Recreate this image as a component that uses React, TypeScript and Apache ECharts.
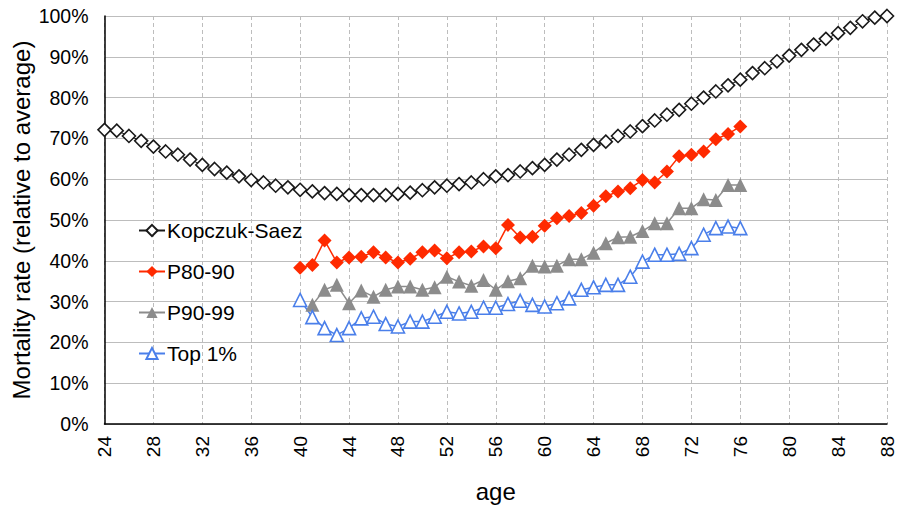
import React, { useEffect, useRef } from "react";
import * as echarts from "echarts";

const allAges = [
  24, 25, 26, 27, 28, 29, 30, 31, 32, 33, 34, 35, 36, 37, 38, 39, 40, 41, 42, 43,
  44, 45, 46, 47, 48, 49, 50, 51, 52, 53, 54, 55, 56, 57, 58, 59, 60, 61, 62, 63,
  64, 65, 66, 67, 68, 69, 70, 71, 72, 73, 74, 75, 76, 77, 78, 79, 80, 81, 82, 83,
  84, 85, 86, 87, 88,
];

const kopczukSaez = [
  72.1, 71.9, 70.6, 69.4, 68.0, 66.8, 66.0, 64.8, 63.5, 62.5,
  61.6, 60.7, 59.8, 59.2, 58.4, 58.0, 57.4, 57.0, 56.6, 56.4,
  56.1, 56.1, 56.1, 56.1, 56.4, 56.7, 57.3, 58.0, 58.4, 58.8,
  59.2, 60.0, 60.7, 61.0, 61.9, 62.7, 63.5, 64.8, 66.0, 67.2,
  68.4, 69.2, 70.6, 71.7, 73.0, 74.4, 75.8, 77.0, 78.5, 80.0,
  81.5, 83.0, 84.4, 86.0, 87.2, 88.9, 90.3, 91.7, 93.0, 94.4,
  95.8, 97.1, 98.7, 99.6, 100.0,
];

const groupAges = [
  40, 41, 42, 43, 44, 45, 46, 47, 48, 49, 50, 51, 52, 53, 54, 55, 56, 57, 58, 59,
  60, 61, 62, 63, 64, 65, 66, 67, 68, 69, 70, 71, 72, 73, 74, 75, 76,
];

const p8090 = [
  38.3, 39.0, 45.0, 39.6, 40.8, 41.0, 42.1, 40.8, 39.6, 40.5,
  42.1, 42.5, 40.6, 42.1, 42.3, 43.5, 43.1, 48.8, 45.7, 45.9,
  48.6, 50.4, 51.0, 51.7, 53.5, 55.8, 57.0, 57.8, 59.8, 59.2,
  61.9, 65.6, 66.0, 66.8, 69.8, 71.1, 72.9,
];

const p9099 = [
  null, 29.2, 32.9, 34.1, 29.6, 32.7, 31.2, 32.9, 33.7, 33.7,
  32.9, 33.5, 36.1, 34.9, 33.9, 35.3, 32.9, 35.0, 35.7, 38.8,
  38.6, 38.8, 40.4, 40.4, 42.0, 44.3, 45.8, 45.9, 47.3, 49.2,
  49.2, 52.9, 52.9, 55.1, 54.9, 58.6, 58.6,
];

const top1 = [
  30.4, 26.2, 23.5, 21.8, 23.5, 25.9, 26.3, 24.5, 23.9, 25.1,
  25.1, 26.3, 27.5, 27.1, 27.5, 28.5, 28.5, 29.4, 30.2, 29.2,
  28.8, 29.6, 30.8, 32.9, 33.5, 34.1, 34.1, 36.1, 39.8, 41.5,
  41.5, 41.7, 43.1, 46.4, 48.0, 48.4, 48.0,
];

const seriesNames = ["Kopczuk-Saez", "P80-90", "P90-99", "Top 1%"];

const pair = (xs: number[], ys: (number | null)[]) =>
  xs.map((x, i) => [x, ys[i] === null ? "-" : ys[i]]);

const FONT = "Liberation Sans, Arial, sans-serif";

export default function App() {
  const ref = useRef<HTMLDivElement>(null);
  useEffect(() => {
    if (!ref.current) return;
    const chart = echarts.init(ref.current, undefined, { renderer: "svg" });
    chart.setOption({
      animation: false,
      backgroundColor: "#ffffff",
      textStyle: { fontFamily: FONT },
      grid: {
        left: 104.5,
        right: 11,
        top: 16,
        bottom: 84,
        containLabel: false,
        outerBoundsMode: "none",
      },
      legend: {
        orient: "vertical",
        left: 138,
        top: 220,
        padding: 0,
        itemGap: 20,
        itemWidth: 26,
        itemHeight: 14,
        data: seriesNames,
        textStyle: { fontSize: 21, color: "#000", fontFamily: FONT, padding: [0, 0, 0, -3] },
      },
      xAxis: {
        type: "value",
        min: 24,
        max: 88,
        interval: 4,
        name: "age",
        nameLocation: "middle",
        nameGap: 55,
        nameMoveOverlap: false,
        nameTextStyle: { fontSize: 24, color: "#000", fontFamily: FONT },
        axisLine: { show: true, lineStyle: { color: "#000", width: 1.5 } },
        axisTick: { show: false },
        axisLabel: { rotate: 90, fontSize: 19, color: "#000", margin: 12, fontFamily: FONT },
        splitLine: { show: true, lineStyle: { color: "#BDBDBD", type: [4, 3], width: 1 } },
      },
      yAxis: {
        type: "value",
        min: 0,
        max: 100,
        interval: 10,
        name: "Mortality rate (relative to average)",
        nameLocation: "middle",
        nameGap: 71,
        nameMoveOverlap: false,
        nameTextStyle: { fontSize: 24, color: "#000", fontFamily: FONT },
        axisLine: { show: true, lineStyle: { color: "#000", width: 1.5 } },
        axisTick: { show: false },
        axisLabel: { formatter: "{value}%", fontSize: 19.5, color: "#000", margin: 16, fontFamily: FONT },
        splitLine: { show: true, lineStyle: { color: "#BDBDBD", width: 1.2 } },
      },
      series: [
        {
          name: seriesNames[0],
          type: "line",
          clip: false,
          data: pair(allAges, kopczukSaez),
          symbol: "diamond",
          symbolSize: 13,
          itemStyle: { color: "#ffffff", borderColor: "#1a1a1a", borderWidth: 1.6 },
          lineStyle: { color: "#1a1a1a", width: 1 },
        },
        {
          name: seriesNames[1],
          type: "line",
          clip: false,
          data: pair(groupAges, p8090),
          symbol: "diamond",
          symbolSize: 14,
          itemStyle: { color: "#FF2A00", borderColor: "#FF2A00", borderWidth: 0 },
          lineStyle: { color: "#FF2A00", width: 1.5 },
        },
        {
          name: seriesNames[2],
          type: "line",
          clip: false,
          connectNulls: false,
          data: pair(groupAges, p9099),
          symbol: "triangle",
          symbolSize: 14,
          itemStyle: { color: "#8C8C8C", borderColor: "#8C8C8C", borderWidth: 0 },
          lineStyle: { color: "#8C8C8C", width: 1.5 },
        },
        {
          name: seriesNames[3],
          type: "line",
          clip: false,
          data: pair(groupAges, top1),
          symbol: "triangle",
          symbolSize: 13,
          itemStyle: { color: "#ffffff", borderColor: "#4A7FEA", borderWidth: 1.6 },
          lineStyle: { color: "#4A7FEA", width: 1.5 },
        },
      ],
    });
    return () => chart.dispose();
  }, []);
  return (
    <div
      ref={ref}
      style={{ position: "absolute", left: 0, top: 0, width: 898, height: 508 }}
    />
  );
}
